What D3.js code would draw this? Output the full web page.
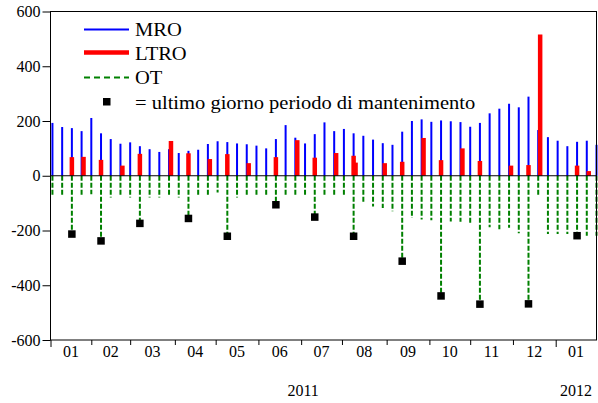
<!DOCTYPE html>
<html><head><meta charset="utf-8">
<script src="https://cdn.jsdelivr.net/npm/d3@7"></script>
<style>
html,body{margin:0;padding:0;background:#fff;}
svg{display:block;}
svg text{font-family:"Liberation Serif","Times New Roman",Times,serif;fill:#000;}
</style></head>
<body><svg id="c" width="598" height="403"></svg>
<script>
// ---- data (billions of euro) ----
const seriesStart = "2011-01-04";   // first weekly (Tuesday) observation
const axisStart = "2011-01-03", axisEnd = "2012-01-31";
const mro = [193,178,174,163,211,155,134,117,122,108,97,87,97,83,91,95,116,126,123,118,115,110,100,134,185,139,118,152,
  195,163,171,155,146,132,119,113,161,200,206,197,202,199,196,179,193,228,245,263,250,289,167,141,128,108,124,128,113];
const ot = [-74,-76,-213,-77,-68,-238,-79,-74,-79,-174,-79,-79,-77,-79,-156,-76,-74,-61,-221,-79,-77,-77,-77,-106,-71,-77,-77,-151,
  -73,-76,-76,-221,-97,-112,-118,-130,-312,-154,-160,-163,-439,-167,-168,-173,-469,-188,-195,-190,-210,-468,-69,-213,-213,-213,-219,-219,-219];
const ltroDates = ["2011-01-18","2011-01-26","2011-02-08","2011-02-23","2011-03-08","2011-03-30","2011-04-12","2011-04-27",
  "2011-05-10","2011-05-25","2011-06-14","2011-06-29","2011-07-12","2011-07-27","2011-08-09","2011-08-10","2011-08-31",
  "2011-09-13","2011-09-28","2011-10-11","2011-10-26","2011-11-08","2011-11-30","2011-12-13","2011-12-21","2012-01-17","2012-01-25"];
const ltro = [68,69,58,37,80,127,82,61,79,46,68,130,66,83,73,48,46,51,138,57,100,54,37,39,516,37,17];
const maintenanceEnds = ["2011-01-18","2011-02-08","2011-03-08","2011-04-12","2011-05-10","2011-06-14","2011-07-12",
  "2011-08-09","2011-09-13","2011-10-11","2011-11-08","2011-12-13","2012-01-17"];
const monthLabels = ["01","02","03","04","05","06","07","08","09","10","11","12","01"];
const yearLabels = ["2011","2012"];
const yTicks = [-600,-400,-200,0,200,400,600];
const legendItems = ["MRO","LTRO","OT","= ultimo giorno periodo di mantenimento"];

// ---- helpers ----
const FONT = '"Liberation Serif","Times New Roman",Times,serif';
const parse = d3.timeParse("%Y-%m-%d");
const t0 = parse(axisStart);
function bday(d){ // business-day index from axisStart (a Monday)
  const days = d3.timeDay.count(t0, d);
  return Math.floor(days/7)*5 + Math.min(days%7, 5);
}
const weekDates = d3.timeTuesday.range(parse(seriesStart), d3.timeDay.offset(parse(axisEnd),1));
const mroData = mro.map((v,i)=>({d:weekDates[i], v}));
const otData = ot.map((v,i)=>({d:weekDates[i], v}));
const ltroData = ltro.map((v,i)=>({d:parse(ltroDates[i]), v}));
const endSet = new Set(maintenanceEnds);
const fmt = d3.timeFormat("%Y-%m-%d");
const sqData = otData.filter(o=>endSet.has(fmt(o.d)));

// ---- scales ----
const L=50.5, R=596.5, T=11.5, B=340;
const x = d3.scaleLinear().domain([0, bday(parse(axisEnd))]).range([L, R]);
const y = d3.scaleLinear().domain([-600, 600]).range([B, T]);
const svg = d3.select("#c");

const monthStarts = d3.timeMonth.range(parse("2011-01-01"), parse("2012-02-01")).map(m=>{
  let d = m; while(d.getDay()===0||d.getDay()===6) d = d3.timeDay.offset(d,1); return bday(d);
});
const endIdx = bday(parse(axisEnd));

// ---- marks ----
const g = svg.append("g");
g.selectAll("line.ot").data(otData).join("line").attr("class","ot")
  .attr("x1",d=>x(bday(d.d))).attr("x2",d=>x(bday(d.d)))
  .attr("y1",y(0)).attr("y2",d=>y(d.v))
  .attr("stroke","#008000").attr("stroke-width",2).attr("stroke-dasharray","5,2");
g.selectAll("rect.mro").data(mroData).join("rect").attr("class","mro")
  .attr("x",d=>x(bday(d.d))-1).attr("width",2)
  .attr("y",d=>y(d.v)).attr("height",d=>y(0)-y(d.v)).attr("fill","#0000ff");
g.selectAll("rect.ltro").data(ltroData).join("rect").attr("class","ltro")
  .attr("x",d=>x(bday(d.d))-2.25).attr("width",4.5)
  .attr("y",d=>y(d.v)).attr("height",d=>y(0)-y(d.v)).attr("fill","#ff0000");
g.selectAll("rect.sq").data(sqData).join("rect").attr("class","sq")
  .attr("x",d=>x(bday(d.d))-3.75).attr("y",d=>y(d.v)-3.75).attr("width",7.5).attr("height",7.5).attr("fill","#000");

svg.append("line").attr("x1",L).attr("x2",R).attr("y1",y(0)).attr("y2",y(0)).attr("stroke","#000").attr("stroke-width",1);
svg.append("rect").attr("x",L).attr("y",T).attr("width",R-L).attr("height",B-T)
  .attr("fill","none").attr("stroke","#000").attr("stroke-width",1);

// y axis
const ya = svg.append("g").attr("transform",`translate(${L},0)`)
  .call(d3.axisLeft(y).tickValues(yTicks).tickSize(8).tickPadding(2).tickFormat(d=>String(d)));
ya.attr("font-family",FONT).attr("font-size",16);
ya.select(".domain").remove();
ya.selectAll("text").attr("fill","#000").style("font-family",FONT).style("font-size","16px");

// x axis
const xa = svg.append("g").attr("transform",`translate(0,${B})`)
  .call(d3.axisBottom(x).tickValues(monthStarts).tickSize(5).tickFormat(""));
xa.select(".domain").remove();
xa.selectAll(".tick line").attr("y2",(d,i)=> (i===0||i===12)?7:5);
monthStarts.forEach((m,i)=>{
  const next = i<monthStarts.length-1 ? monthStarts[i+1] : endIdx;
  svg.append("text").attr("x",x((m+next)/2)).attr("y",357).attr("text-anchor","middle")
    .style("font-family",FONT).style("font-size","16px").text(monthLabels[i]);
});
svg.append("text").attr("x",x((monthStarts[0]+monthStarts[12])/2)).attr("y",396).attr("text-anchor","middle")
  .style("font-family",FONT).style("font-size","16px").text(yearLabels[0]);
svg.append("text").attr("x",x((monthStarts[12]+endIdx)/2)).attr("y",396).attr("text-anchor","middle")
  .style("font-family",FONT).style("font-size","16px").text(yearLabels[1]);

// legend
const lg = svg.append("g");
const lx1=84, lx2=129, tx=135;
lg.append("line").attr("x1",lx1).attr("x2",lx2).attr("y1",29.5).attr("y2",29.5).attr("stroke","#0000ff").attr("stroke-width",2);
lg.append("line").attr("x1",lx1).attr("x2",lx2).attr("y1",52.5).attr("y2",52.5).attr("stroke","#ff0000").attr("stroke-width",4.5);
lg.append("line").attr("x1",lx1).attr("x2",lx2).attr("y1",77.5).attr("y2",77.5).attr("stroke","#008000").attr("stroke-width",2).attr("stroke-dasharray","6,4");
lg.append("rect").attr("x",103).attr("y",98).attr("width",7.5).attr("height",7.5).attr("fill","#000");
[36,60,84,109].forEach((by,i)=>{
  lg.append("text").attr("transform",`translate(${tx},${by}) scale(1.08,1)`)
    .style("font-family",FONT).style("font-size","19px").text(legendItems[i]);
});
</script></body></html>
